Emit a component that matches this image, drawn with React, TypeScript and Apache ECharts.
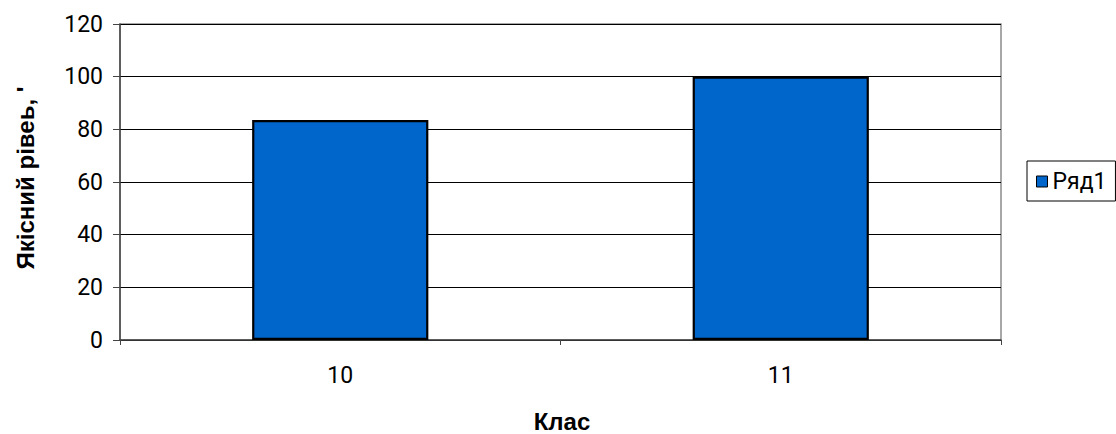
import React, { useEffect, useRef } from "react";
import * as echarts from "echarts";

const categories = ["10", "11"];
const seriesName = "Ряд1";
const values = [83.5, 100];
const yTicks = { min: 0, max: 120, interval: 20 };
const xTitle = "Клас";
const yTitle = "Якісний рівеь, '";

export default function App() {
  const ref = useRef<HTMLDivElement>(null);
  useEffect(() => {
    if (!ref.current) return;
    const chart = echarts.init(ref.current, null, { renderer: "svg" });
    chart.setOption({
      animation: false,
      backgroundColor: "#ffffff",
      grid: {
        left: 120,
        right: 115,
        top: 24,
        bottom: 94,
        show: true,
        borderColor: "#8c8c8c",
        borderWidth: 1.5,
        backgroundColor: "#ffffff",
      },
      legend: {
        left: 1027,
        top: 161,
        orient: "vertical",
        padding: [9, 9, 8, 9],
        borderColor: "#000",
        borderWidth: 1,
        icon: "rect",
        itemWidth: 11,
        itemHeight: 11,
        itemGap: 5,
        itemStyle: { borderColor: "#000", borderWidth: 1 },
        textStyle: { fontFamily: "Roboto", fontSize: 23, color: "#000" },
        data: [seriesName],
      },
      xAxis: {
        type: "category",
        data: categories,
        boundaryGap: true,
        axisLine: { lineStyle: { color: "#444", width: 1.5 } },
        axisTick: { show: true, length: 5, lineStyle: { color: "#444" } },
        axisLabel: { fontFamily: "Roboto", fontSize: 23, color: "#000", margin: 24 },
        splitLine: { show: false },
      },
      yAxis: {
        type: "value",
        min: yTicks.min,
        max: yTicks.max,
        interval: yTicks.interval,
        axisLine: { show: true, lineStyle: { color: "#444", width: 1.5 } },
        axisTick: { show: true, length: 7, lineStyle: { color: "#444" } },
        axisLabel: { fontFamily: "Roboto", fontSize: 23, color: "#000", margin: 17 },
        splitLine: { show: true, lineStyle: { color: "#000", width: 1 } },
      },
      series: [
        {
          name: seriesName,
          type: "bar",
          data: values,
          barWidth: "40%",
          itemStyle: { color: "#0066CC", borderColor: "#000", borderWidth: 2.2 },
        },
      ],
      graphic: [
        {
          type: "text",
          x: 562,
          y: 421,
          style: {
            text: xTitle,
            fontFamily: "Liberation Sans",
            fontWeight: "bold",
            fontSize: 24,
            fill: "#000",
            textAlign: "center",
            textVerticalAlign: "middle",
          },
        },
        {
          type: "text",
          x: 25,
          y: 178,
          rotation: Math.PI / 2,
          style: {
            text: yTitle,
            fontFamily: "Liberation Sans",
            fontWeight: "bold",
            fontSize: 24,
            fill: "#000",
            textAlign: "center",
            textVerticalAlign: "middle",
          },
        },
      ],
    });
    return () => chart.dispose();
  }, []);
  return (
    <div
      ref={ref}
      style={{ position: "fixed", left: 0, top: 0, width: 1116, height: 434 }}
    />
  );
}
